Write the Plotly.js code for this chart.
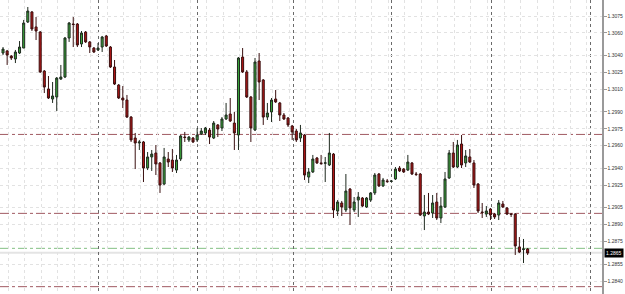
<!DOCTYPE html>
<html>
<head>
<meta charset="utf-8">
<script src="https://cdn.plot.ly/plotly-3.0.1.min.js"></script>
<style>html,body{margin:0;padding:0;background:#fff;}#chart{width:625px;height:294px;}</style>
</head>
<body>
<div id="chart"></div>
<script>
const openP = [1.30422,1.30440,1.30395,1.30369,1.30422,1.30466,1.30697,1.30786,1.30653,1.30608,
1.30262,1.30103,1.30014,1.30032,1.30191,1.30209,1.30555,1.30679,1.30679,1.30502,
1.30608,1.30520,1.30466,1.30449,1.30475,1.30573,1.30475,1.30298,1.30138,1.30023,
1.30005,1.29854,1.29668,1.29624,1.29633,1.29402,1.29500,1.29535,1.29447,1.29260,
1.29482,1.29473,1.29384,1.29482,1.29677,1.29651,1.29668,1.29651,1.29704,1.29713,
1.29739,1.29668,1.29784,1.29757,1.29837,1.29881,1.29801,1.29695,1.30386,1.30254,
1.30032,1.29739,1.30351,1.30183,1.29854,1.29899,1.30014,1.29979,1.29872,1.29846,
1.29775,1.29730,1.29668,1.29695,1.29322,1.29367,1.29491,1.29447,1.29444,1.29429,
1.29526,1.29021,1.29092,1.29030,1.29216,1.29030,1.29118,1.29136,1.29056,1.29118,
1.29181,1.29349,1.29243,1.29287,1.29283,1.29305,1.29402,1.29393,1.29384,1.29447,
1.29349,1.29349,1.28977,1.29012,1.29003,1.29101,1.28959,1.29056,1.29314,1.29535,
1.29411,1.29615,1.29447,1.29500,1.29447,1.29260,1.29012,1.28994,1.29039,1.28994,
1.28985,1.29083,1.29048,1.28994,1.28994,1.28702,1.28679,1.28684];
const highP = [1.30475,1.30449,1.30404,1.30449,1.30528,1.30715,1.30830,1.30794,1.30741,1.30617,
1.30271,1.30218,1.30165,1.30209,1.30316,1.30564,1.30697,1.30741,1.30688,1.30617,
1.30617,1.30528,1.30475,1.30511,1.30573,1.30582,1.30484,1.30360,1.30147,1.30129,
1.30050,1.29863,1.29713,1.29651,1.29642,1.29544,1.29562,1.29606,1.29455,1.29580,
1.29544,1.29571,1.29518,1.29695,1.29722,1.29686,1.29677,1.29757,1.29757,1.29766,
1.29757,1.29819,1.29792,1.29854,1.29979,1.30023,1.29899,1.30386,1.30466,1.30271,
1.30041,1.30378,1.30422,1.30191,1.29979,1.30023,1.30094,1.29988,1.29890,1.29854,
1.29784,1.29748,1.29784,1.29704,1.29402,1.29518,1.29500,1.29518,1.29500,1.29713,
1.29535,1.29118,1.29110,1.29349,1.29225,1.29145,1.29189,1.29145,1.29145,1.29189,
1.29358,1.29358,1.29314,1.29305,1.29296,1.29411,1.29420,1.29402,1.29518,1.29455,
1.29367,1.29358,1.29163,1.29181,1.29163,1.29181,1.29145,1.29367,1.29562,1.29633,
1.29651,1.29695,1.29562,1.29571,1.29473,1.29269,1.29092,1.29065,1.29048,1.29003,
1.29118,1.29110,1.29056,1.29003,1.29003,1.28790,1.28773,1.28693];
const lowP = [1.30404,1.30316,1.30360,1.30333,1.30413,1.30466,1.30688,1.30617,1.30537,1.30245,
1.30067,1.30014,1.29979,1.29908,1.30183,1.30200,1.30520,1.30475,1.30475,1.30475,
1.30511,1.30422,1.30422,1.30440,1.30431,1.30475,1.30289,1.30138,1.30014,1.29934,
1.29846,1.29633,1.29393,1.29562,1.29278,1.29384,1.29376,1.29340,1.29181,1.29251,
1.29411,1.29367,1.29358,1.29464,1.29633,1.29633,1.29624,1.29633,1.29695,1.29695,
1.29615,1.29659,1.29677,1.29730,1.29828,1.29810,1.29562,1.29562,1.30245,1.30023,
1.29633,1.29730,1.30005,1.29784,1.29828,1.29810,1.29979,1.29819,1.29828,1.29766,
1.29651,1.29633,1.29633,1.29296,1.29269,1.29358,1.29438,1.29429,1.29278,1.29420,
1.28959,1.28977,1.28977,1.29012,1.28897,1.29012,1.28968,1.29056,1.29048,1.29101,
1.29163,1.29234,1.29234,1.29269,1.29278,1.29296,1.29367,1.29358,1.29376,1.29340,
1.29331,1.28977,1.28852,1.28985,1.28959,1.28941,1.28914,1.29048,1.29305,1.29402,
1.29402,1.29402,1.29411,1.29447,1.29225,1.29003,1.28959,1.28968,1.28941,1.28950,
1.28941,1.29048,1.28985,1.28968,1.28631,1.28648,1.28560,1.28631];
const closeP = [1.30457,1.30404,1.30378,1.30431,1.30475,1.30688,1.30794,1.30635,1.30617,1.30254,
1.30120,1.30023,1.30041,1.30200,1.30209,1.30555,1.30688,1.30675,1.30493,1.30599,
1.30520,1.30475,1.30431,1.30466,1.30564,1.30484,1.30298,1.30147,1.30023,1.30005,
1.29854,1.29651,1.29624,1.29633,1.29402,1.29500,1.29526,1.29438,1.29251,1.29500,
1.29455,1.29402,1.29473,1.29686,1.29673,1.29677,1.29633,1.29695,1.29730,1.29757,
1.29677,1.29801,1.29748,1.29837,1.29872,1.29819,1.29713,1.30378,1.30254,1.30032,
1.29757,1.30342,1.30165,1.29854,1.29890,1.30005,1.29988,1.29872,1.29837,1.29784,
1.29722,1.29651,1.29713,1.29340,1.29367,1.29482,1.29447,1.29442,1.29448,1.29535,
1.29030,1.29101,1.29056,1.29198,1.29048,1.29101,1.29145,1.29065,1.29136,1.29181,
1.29340,1.29243,1.29296,1.29283,1.29287,1.29393,1.29376,1.29367,1.29455,1.29349,
1.29345,1.28985,1.29012,1.28994,1.29092,1.28959,1.29065,1.29305,1.29535,1.29411,
1.29606,1.29429,1.29509,1.29455,1.29251,1.29021,1.29008,1.29021,1.28985,1.28968,
1.29092,1.29056,1.28994,1.28990,1.28711,1.28657,1.28684,1.28648];

const priceTicks = [1.3075,1.3060,1.3040,1.3025,1.3010,1.2990,1.2975,1.2960,1.2940,1.2925,1.2905,1.2890,1.2875,1.2855,1.2840];
const daySeparators = [23.2,47.1,70.2,94.1,118.2,142.1];
const levelPrices = [1.2970,1.2900,1.2869,1.2835];
const levelColors = ['#a05a62','#a05a62','#84c084','#a05a62'];
const currentPrice = 1.2865;

const xIdx = openP.map((_, i) => i);

const trace = {
  type: 'candlestick',
  x: xIdx, open: openP, high: highP, low: lowP, close: closeP,
  increasing: {fillcolor: '#3aa43a', line: {color: '#1f2a1f', width: 1}},
  decreasing: {fillcolor: '#b01616', line: {color: '#3a1010', width: 1}},
  whiskerwidth: 0,
  hoverinfo: 'skip'
};

const shapes = [{
  type: 'line', xref: 'paper', x0: 0, x1: 1, yref: 'y', y0: currentPrice, y1: currentPrice,
  line: {color: '#e4e4e4', width: 2}, layer: 'below'
}];
levelPrices.forEach((p, i) => shapes.push({
  type: 'line', xref: 'paper', x0: 0, x1: 1, yref: 'y', y0: p, y1: p,
  line: {color: levelColors[i], width: 1, dash: 'dashdot'}, layer: 'below'
}));

const layout = {
  width: 625, height: 294,
  margin: {l: 0, r: 23, t: 0, b: 0, pad: 0},
  paper_bgcolor: '#ffffff', plot_bgcolor: '#ffffff',
  showlegend: false,
  font: {family: 'Liberation Sans, Arial, sans-serif', size: 5, color: '#333'},
  xaxis: {
    range: [-0.73, 145.0], showticklabels: false, zeroline: false, showline: false,
    ticks: '', tickmode: 'array', tickvals: daySeparators,
    showgrid: true, gridcolor: '#6a6a6a', griddash: 'dot', gridwidth: 1,
    minor: {tick0: 1.28, dtick: 4, showgrid: true, gridcolor: '#e2e2e2', griddash: 'dot', gridwidth: 1, ticks: ''},
    rangeslider: {visible: false}, fixedrange: true
  },
  yaxis: {
    side: 'right', range: [1.28285, 1.30892],
    tickmode: 'array', tickvals: priceTicks, ticktext: priceTicks.map(v => v.toFixed(4)),
    tickfont: {size: 5, color: '#333'},
    showgrid: true, gridcolor: '#e2e2e2', griddash: 'dot', gridwidth: 1,
    showline: true, linecolor: '#9a9a9a', linewidth: 1.5,
    ticks: 'outside', ticklen: 3, tickcolor: '#9a9a9a',
    zeroline: false, fixedrange: true
  },
  shapes: shapes,
  annotations: [{
    xref: 'paper', x: 1, xanchor: 'left', xshift: 2, yref: 'y', y: currentPrice,
    text: currentPrice.toFixed(4), showarrow: false, bgcolor: '#000000',
    font: {color: '#ffffff', size: 5}, borderpad: 1
  }]
};

Plotly.newPlot('chart', [trace], layout, {staticPlot: true, displayModeBar: false});
</script>
</body>
</html>
